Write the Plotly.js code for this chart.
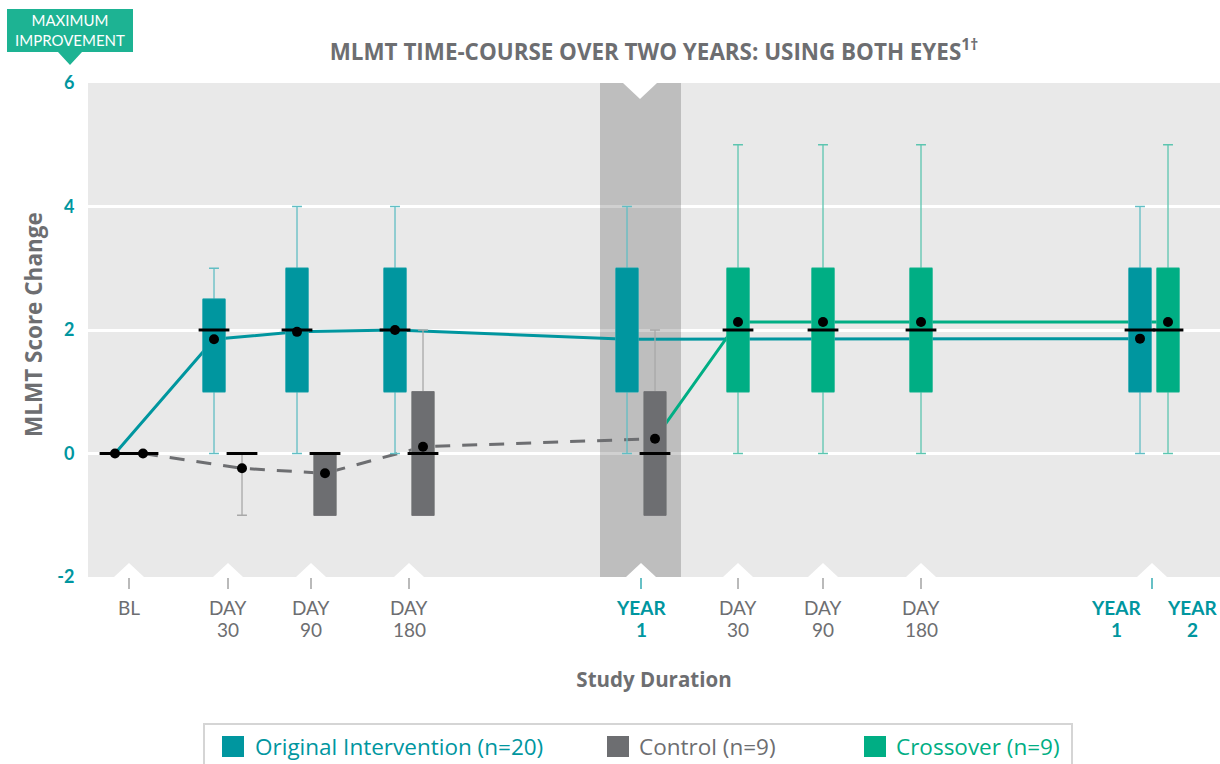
<!DOCTYPE html>
<html><head><meta charset="utf-8">
<script src="https://cdn.plot.ly/plotly-3.0.1.min.js"></script>
<style>html,body{margin:0;padding:0;background:#fff;}#chart{width:1220px;height:764px;}</style>
</head><body><div id="chart"></div>
<script>
// ================= DATA =================
const timepoints = ['BL','D30','D90','D180','Y1','X30','X90','X180','END'];
const tickLabels = ['BL','DAY<br>30','DAY<br>90','DAY<br>180','YEAR<br>1','DAY<br>30','DAY<br>90','DAY<br>180',''];
const endLabels  = ['YEAR<br>1','YEAR<br>2'];
const yearTicks  = ['Y1','END'];
const seriesNames = ['Original Intervention (n=20)','Control (n=9)','Crossover (n=9)'];
const yTicks = [-2,0,2,4,6];
const yTickText = ['-2','0','2','4','6'];

// Original Intervention
const origAt     = ['BL','D30','D90','D180','Y1','END'];
const origQ1     = [0, 1,   1,    1,   1,    1];
const origMedian = [0, 2,   2,    2,   null, 2];
const origQ3     = [0, 2.5, 3,    3,   3,    3];
const origLow    = [0, 0,   0,    0,   0,    0];
const origHigh   = [0, 3,   4,    4,   4,    4];
const origMean   = [0, 1.85,1.97, 2.0, 1.85, 1.86];

// Control
const ctrlAt     = ['BL','D30','D90','D180','Y1'];
const ctrlQ1     = [0, 0,    -1,    -1,   -1];
const ctrlMedian = [0, 0,     0,     0,    0];
const ctrlQ3     = [0, 0,     0,     1,    1];
const ctrlLow    = [0, -1,   -1,    -1,   -1];
const ctrlHigh   = [0, 0,     0,     2,    2];
const ctrlMean   = [0, -0.24, -0.32, 0.11, 0.24];

// Crossover
const crossAt     = ['X30','X90','X180','END'];
const crossQ1     = [1, 1, 1, 1];
const crossMedian = [2, 2, 2, 2];
const crossQ3     = [3, 3, 3, 3];
const crossLow    = [0, 0, 0, 0];
const crossHigh   = [5, 5, 5, 5];
const crossMean   = [2.13, 2.13, 2.13, 2.13];

// ================= LAYOUT / STYLE =================
const W = 1220, H = 764, PL = 88, PR = 1220, PT = 83, PB = 577;
const slotX = {BL:129, D30:228, D90:311, D180:409, Y1:641, X30:738, X90:823, X180:921, END:1154};
const PAIR = 14;
const ORIG='#00969f', ORIG_W='#62bec4', CTRL='#6d6e71', CTRL_W='#a8a8a8', CROSS='#00ae84', CROSS_W='#5cc5b0';
const GREY_TXT='#6d6e71';
const FONT='Lato, "Open Sans", sans-serif';
const FONT_W='"Open Sans", Lato, sans-serif';

const groups = {orig: origAt, ctrl: ctrlAt, cross: crossAt};
const order = ['orig','ctrl','cross'];
function xpos(slot, key){
  const present = order.filter(k => groups[k].includes(slot));
  if(present.length < 2) return slotX[slot];
  return slotX[slot] + (present.indexOf(key) === 0 ? -PAIR : PAIR);
}
const px2x = p => (p - PL) / (PR - PL);
const py2y = p => (PB - p) / (PB - PT);

function boxTraces(key, at, q1, med, q3, lo, hi, fill, whisk){
  const x = at.map(s => xpos(s, key));
  const medPlot = med.map((m,i) => m === null ? q1[i] : m);
  const common = {type:'box', x, q1, median: medPlot, q3, width:22, boxpoints:false,
                  xaxis:'x2', yaxis:'y2', hoverinfo:'skip', showlegend:false, fillcolor: fill};
  return [
    Object.assign({}, common, {lowerfence: lo, upperfence: hi, whiskerwidth:0.45, line:{color: whisk, width:1.3}}),
    Object.assign({}, common, {lowerfence: q1, upperfence: q3, whiskerwidth:0, line:{color: fill, width:1}})
  ];
}
function markerTraces(key, at, med, mean){
  const x = at.map(s => xpos(s, key));
  return [
    {type:'scatter', mode:'markers', x, y: med, xaxis:'x2', yaxis:'y2', hoverinfo:'skip', showlegend:false,
     marker:{symbol:'line-ew', size:22, line:{width:3, color:'#000'}}},
    {type:'scatter', mode:'markers', x, y: mean.map((v,i) => med[i] === null ? null : v), xaxis:'x2', yaxis:'y2',
     hoverinfo:'skip', showlegend:false, marker:{symbol:'circle', size:10, color:'#000'}}
  ];
}

const traces = [
  // lines (below boxes)
  {type:'scatter', mode:'lines', name: seriesNames[0], x: origAt.map(s => xpos(s,'orig')), y: origMean,
   line:{color: ORIG, width:3}, hoverinfo:'skip', showlegend:false},
  {type:'scatter', mode:'lines', name: seriesNames[1], x: ctrlAt.map(s => xpos(s,'ctrl')), y: ctrlMean,
   line:{color: CTRL, width:3, dash:'15px,12px'}, hoverinfo:'skip', showlegend:false},
  {type:'scatter', mode:'lines', name: seriesNames[2],
   x: [xpos(ctrlAt[ctrlAt.length-1],'ctrl')].concat(crossAt.map(s => xpos(s,'cross'))),
   y: [ctrlMean[ctrlMean.length-1]].concat(crossMean),
   line:{color: CROSS, width:3}, hoverinfo:'skip', showlegend:false},
  ...boxTraces('orig', origAt, origQ1, origMedian, origQ3, origLow, origHigh, ORIG, ORIG_W),
  ...boxTraces('ctrl', ctrlAt, ctrlQ1, ctrlMedian, ctrlQ3, ctrlLow, ctrlHigh, CTRL, CTRL_W),
  ...boxTraces('cross', crossAt, crossQ1, crossMedian, crossQ3, crossLow, crossHigh, CROSS, CROSS_W),
  ...markerTraces('orig', origAt, origMedian, origMean),
  ...markerTraces('ctrl', ctrlAt, ctrlMedian, ctrlMean),
  ...markerTraces('cross', crossAt, crossMedian, crossMean)
];

const shapes = [];
// shaded year-1 band
shapes.push({type:'rect', xref:'x', yref:'y', x0: slotX.Y1-41, x1: slotX.Y1+40, y0: yTicks[0], y1: yTicks[yTicks.length-1],
  fillcolor:'rgba(0,0,0,0.185)', line:{width:0}, layer:'between'});
// top notch
shapes.push({type:'path', xref:'x', yref:'y', xsizemode:'pixel', ysizemode:'pixel', xanchor: slotX.Y1-1, yanchor: yTicks[yTicks.length-1],
  path:'M-17,0 L0,-16 L17,0 Z', fillcolor:'#ffffff', line:{width:0}, layer:'between'});
// bottom notches + tick marks
timepoints.forEach(s => {
  const tx = s === 'END' ? slotX[s]-2 : slotX[s];
  shapes.push({type:'path', xref:'x', yref:'y', xsizemode:'pixel', ysizemode:'pixel', xanchor: tx, yanchor: yTicks[0],
    path:'M-15,0 L0,14 L15,0 Z', fillcolor:'#ffffff', line:{width:0}, layer:'between'});
  shapes.push({type:'line', xref:'x', yref:'paper', ysizemode:'pixel', yanchor:0, x0: tx, x1: tx, y0:-1, y1:-12,
    line:{color: yearTicks.includes(s) ? ORIG : '#8c8c8c', width:1.2}});
});
// badge
shapes.push({type:'path', xref:'paper', yref:'paper', xsizemode:'pixel', ysizemode:'pixel', xanchor:0, yanchor:1,
  path:'M-81,74 L45,74 L45,31 L-6,31 L-18,18 L-30,31 L-81,31 Z', fillcolor:'#1db393', line:{width:0}});
// legend frame + swatches
shapes.push({type:'rect', xref:'paper', yref:'paper', x0:px2x(204), x1:px2x(1072), y0:py2y(790), y1:py2y(724),
  line:{color:'#d5d5d5', width:2}, fillcolor:'rgba(0,0,0,0)'});
const legendColors = [ORIG, CTRL, CROSS];
const legendSwatchX = [222, 607, 864];
const legendTextX = [253, 637, 894];
legendColors.forEach((c,i) => {
  shapes.push({type:'rect', xref:'paper', yref:'paper', x0:px2x(legendSwatchX[i]), x1:px2x(legendSwatchX[i]+22),
    y0:py2y(757), y1:py2y(736), fillcolor:c, line:{width:0}});
});

const annotations = [];
timepoints.forEach((s,i) => {
  if(!tickLabels[i]) return;
  const isYear = yearTicks.includes(s);
  tickLabels[i].split('<br>').forEach((line,k) => {
    annotations.push({xref:'x', yref:'paper', x: slotX[s], xanchor:'center', y:0, yanchor:'middle', yshift: -(30 + 22*k), showarrow:false,
      text: isYear ? '<b>'+line+'</b>' : line,
      font:{family:FONT, size:19, color: isYear ? ORIG : GREY_TXT}});
  });
});
endLabels.forEach((lab,j) => {
  lab.split('<br>').forEach((line,k) => {
    annotations.push({xref:'x', yref:'paper', x: slotX.END + (j===0 ? -38 : 38), xanchor:'center', y:0, yanchor:'middle', yshift: -(30 + 22*k),
      showarrow:false, text:'<b>'+line+'</b>', font:{family:FONT, size:19, color: ORIG}});
  });
});
// badge text
annotations.push({xref:'paper', yref:'paper', x: px2x(70), xanchor:'center', y: py2y(30), yanchor:'middle',
  showarrow:false, text:'MAXIMUM<br>IMPROVEMENT', font:{family:FONT, size:15, color:'#ffffff'}});
// y-axis title
annotations.push({xref:'paper', yref:'paper', x: px2x(33), xanchor:'center', y: py2y(325), yanchor:'middle', textangle:-90,
  showarrow:false, text:'MLMT Score Change', font:{family:FONT_W, size:22.5, color:GREY_TXT, weight:'bold'}});
// legend texts
seriesNames.forEach((n,i) => {
  annotations.push({xref:'paper', yref:'paper', x: px2x(legendTextX[i]), y: py2y(746), xanchor:'left', yanchor:'middle',
    showarrow:false, text:n, font:{family:FONT_W, size:22.5, color: legendColors[i]}});
});

const layout = {
  width: W, height: H, autosize:false,
  margin:{l:PL, r:W-PR, t:PT, b:H-PB, pad:0},
  paper_bgcolor:'#ffffff', plot_bgcolor:'#e9e9e9',
  showlegend:false, boxmode:'overlay',
  title:{text:'MLMT TIME-COURSE OVER TWO YEARS: USING BOTH EYES<sup>1†</sup>', xref:'container', x: 654/W, xanchor:'center',
         yref:'container', y: 1-52/H, yanchor:'middle', font:{family:FONT_W, size:22.4, color:GREY_TXT, weight:'bold'}},
  xaxis:{range:[PL, PR], showgrid:false, zeroline:false, showticklabels:false, ticks:'', fixedrange:true,
         title:{text:'Study Duration', standoff:95, font:{family:FONT_W, size:20.5, color:GREY_TXT, weight:'bold'}}},
  yaxis:{range:[yTicks[0], yTicks[yTicks.length-1]], tickvals:yTicks, ticktext:yTickText, gridcolor:'#ffffff', gridwidth:3, zeroline:false,
         ticks:'outside', ticklen:9, tickcolor:'rgba(0,0,0,0)', fixedrange:true,
         tickfont:{family:FONT, size:18, color:ORIG, weight:'bold'}},
  xaxis2:{overlaying:'x', range:[PL, PR], visible:false, fixedrange:true},
  yaxis2:{overlaying:'y', range:[yTicks[0], yTicks[yTicks.length-1]], visible:false, fixedrange:true},
  shapes, annotations
};
Plotly.newPlot('chart', traces, layout, {staticPlot:true, displayModeBar:false});
</script></body></html>
